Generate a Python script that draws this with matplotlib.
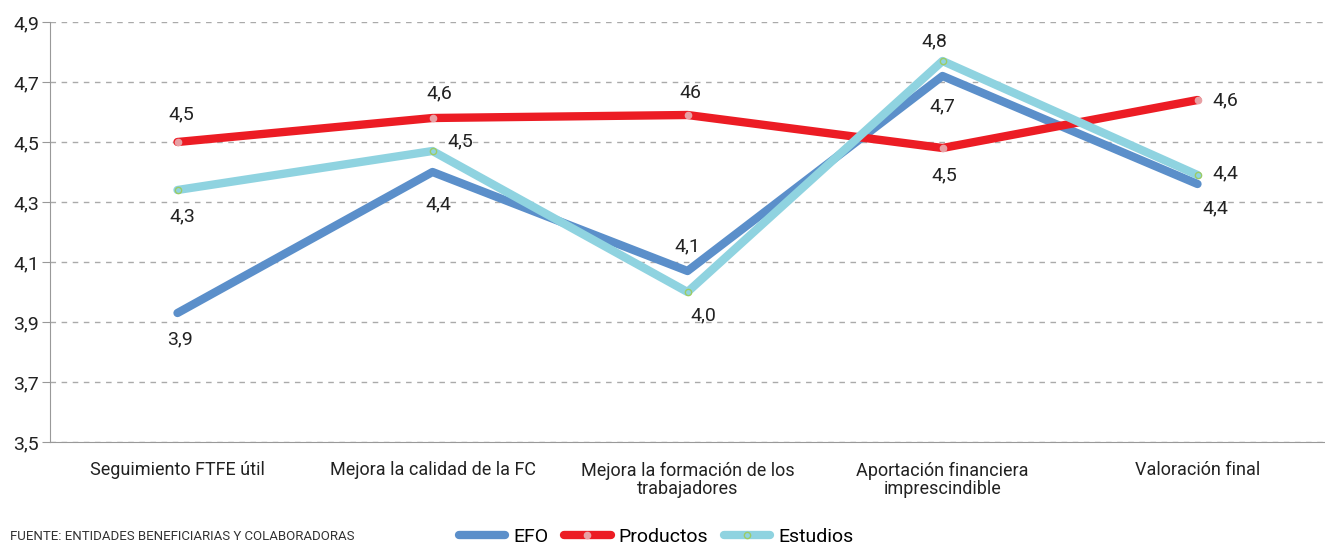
import matplotlib
matplotlib.use('Agg')
import matplotlib.pyplot as plt
import numpy as np

plt.rcParams['font.family'] = ['Roboto', 'DejaVu Sans']

categories = ['Seguimiento FTFE útil', 'Mejora la calidad de la FC',
              'Mejora la formación de los\ntrabajadores',
              'Aportación financiera\nimprescindible', 'Valoración final']
efo = [3.93, 4.40, 4.07, 4.72, 4.36]
productos = [4.50, 4.58, 4.59, 4.48, 4.64]
estudios = [4.34, 4.47, 4.00, 4.77, 4.39]

efo_labels = ['3,9', '4,4', '4,1', '4,7', '4,4']
productos_labels = ['4,5', '4,6', '46', '4,5', '4,6']
estudios_labels = ['4,3', '4,5', '4,0', '4,8', '4,4']

# label offsets in pixels (dx, dy)
efo_off = [(2, -26), (6, -32), (0, 25), (0, -30), (18, -24)]
productos_off = [(4, 28), (7, 25), (3, 22), (2, -27), (28, 0)]
estudios_off = [(5, -26), (28, 10), (16, -23), (-8, 20), (28, 2)]

yticks = [3.5, 3.7, 3.9, 4.1, 4.3, 4.5, 4.7, 4.9]

fig = plt.figure(figsize=(13.25, 5.47), dpi=100)
ax = fig.add_axes([50/1325, 105/547, 1275/1325, 420/547])

x = np.arange(len(categories))
series = [
    ('EFO', efo, efo_labels, efo_off, '#5b8fca', None, None),
    ('Productos', productos, productos_labels, productos_off, '#ec1c24', '#e8a0a4', '#e8a0a4'),
    ('Estudios', estudios, estudios_labels, estudios_off, '#8fd3e0', '#8fd3e0', '#9ccc65'),
]
for name, vals, labs, offs, col, mfc, mec in series:
    if mfc is None:
        ax.plot(x, vals, color=col, lw=6, solid_capstyle='round', label=name, zorder=3)
    else:
        ax.plot(x, vals, color=col, lw=6, solid_capstyle='round', marker='o',
                markersize=4.5, markerfacecolor=mfc, markeredgecolor=mec,
                markeredgewidth=1, label=name, zorder=3)
    for xi, v, lab, (dx, dy) in zip(x, vals, labs, offs):
        ax.annotate(lab, (xi, v), xytext=(dx, dy), textcoords='offset pixels',
                    ha='center', va='center', fontsize=14, color='#222222')

ax.set_xlim(-0.5, 4.5)
ax.set_ylim(3.5, 4.9)
ax.set_yticks(yticks)
ax.set_yticklabels([f'{t:.1f}'.replace('.', ',') for t in yticks], fontsize=14, color='#222222')
ax.set_xticks(x)
ax.set_xticklabels(categories, fontsize=13, color='#222222', linespacing=1.0)
ax.tick_params(axis='y', length=6, color='#999999', pad=2)
ax.tick_params(axis='x', length=0, pad=14)
ax.grid(axis='y', linestyle=(0, (4, 4)), color='#aaaaaa', lw=1)
ax.set_axisbelow(True)
for s in ['top', 'right']:
    ax.spines[s].set_visible(False)
ax.spines['left'].set_color('#999999')
ax.spines['bottom'].set_color('#999999')

fig.text(10/1325, 1 - 537/547, 'FUENTE: ENTIDADES BENEFICIARIAS Y COLABORADORAS',
         fontsize=9.5, color='#333333', va='center')
fig.legend(loc='center', bbox_to_anchor=(656/1325, 1 - 537/547), ncol=3, frameon=False,
           fontsize=14, handlelength=2.4, handletextpad=0.4, columnspacing=0.8)

fig.savefig('out.png', dpi=100)
